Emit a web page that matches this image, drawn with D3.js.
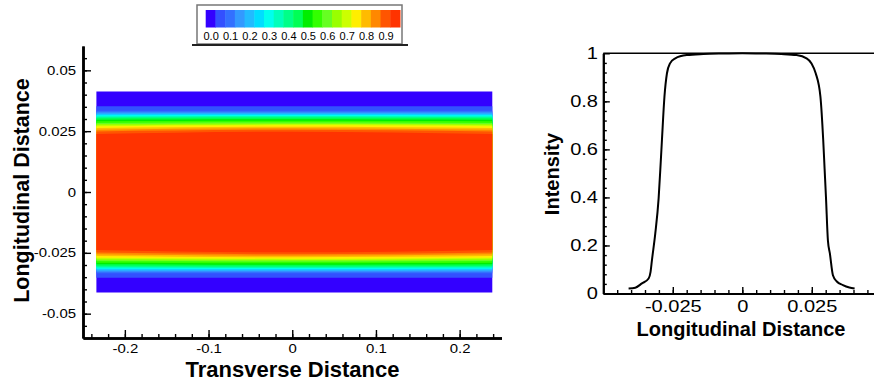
<!DOCTYPE html>
<html>
<head>
<meta charset="utf-8">
<script src="https://cdn.jsdelivr.net/npm/d3@7"></script>
<style>
  body { margin: 0; background: #fff; }
  svg { display: block; font-family: "Liberation Sans", Arial, sans-serif; }
</style>
</head>
<body>
<svg id="chart" width="874" height="381"></svg>
<script>
// contour legend levels and colours (one box per 0.05)
const levels = d3.range(20).map(i => i * 0.05);
const levelColors = ['#3300ff', '#3350ff', '#3370ff', '#3399ff', '#22bbff', '#00ddff', '#00ffee', '#00ffbb',
  '#00ff88', '#00ff55', '#00ee00', '#33ff00', '#66ff22', '#99ff00', '#ccff00', '#ffee00',
  '#ffbb00', '#ff8800', '#ff5500', '#ff3300'];
const legendLabels = ['0.0', '0.1', '0.2', '0.3', '0.4', '0.5', '0.6', '0.7', '0.8', '0.9'];

// map extent (transverse x, longitudinal y)
const mapX = [-0.234, 0, 0.239];
const mapHalfHeight = 0.0413;
// upper contour line of levels 0.05 .. 0.95, at the map centre and at its side edges
const contourCenter = [0.0352, 0.0334, 0.0328, 0.0324, 0.0320, 0.0316, 0.0312, 0.0309, 0.0305, 0.0299,
  0.0293, 0.0287, 0.0282, 0.0278, 0.0274, 0.0268, 0.0262, 0.0256, 0.0248];
const contourEdge = [0.0352, 0.0334, 0.0328, 0.0323, 0.0319, 0.0315, 0.0311, 0.0307, 0.0303, 0.0297,
  0.0291, 0.0284, 0.0279, 0.0274, 0.0270, 0.0263, 0.0256, 0.0249, 0.0238];

// intensity profile along the longitudinal distance
const profileX = [-0.0409, -0.0385, -0.0361, -0.0337, -0.0330, -0.0325, -0.0313, -0.0301, -0.0293, -0.0289,
  -0.0280, -0.0271, -0.0260, -0.0241, -0.0200, -0.0140, -0.0070, 0, 0.0070, 0.0140, 0.0195, 0.0231, 0.0249,
  0.0264, 0.0281, 0.0291, 0.0296, 0.0301, 0.0308, 0.0315, 0.0326, 0.0340, 0.0362, 0.0385, 0.0404];
const profileI = [0.021, 0.024, 0.042, 0.0625, 0.09, 0.139, 0.25, 0.396, 0.556, 0.64,
  0.82, 0.917, 0.958, 0.979, 0.9925, 0.997, 0.999, 1.0, 0.999, 0.997, 0.9925, 0.979, 0.958,
  0.917, 0.82, 0.64, 0.52, 0.40, 0.22, 0.167, 0.076, 0.05, 0.035, 0.025, 0.021];

const leftXTicks = [-0.2, -0.1, 0, 0.1, 0.2];
const leftYTicks = [-0.05, -0.025, 0, 0.025, 0.05];
const rightXTicks = [-0.025, 0, 0.025];
const rightYTicks = [0, 0.2, 0.4, 0.6, 0.8, 1];

const svg = d3.select('#chart');
const fmt = d => d === 0 ? '0' : String(+d.toFixed(3)).replace('\u2212', '-');

// ---------- left: contour map ----------
const x1 = d3.scaleLinear().domain([-0.25, 0.25]).range([83, 501.5]);
const y1 = d3.scaleLinear().domain([-0.06, 0.06]).range([338, 46]);

const bands = svg.append('g');
// outermost level is the full map rectangle, then each higher level painted over it
const bandShapes = [{ c: mapHalfHeight, e: mapHalfHeight }]
  .concat(contourCenter.map((c, i) => ({ c: c, e: contourEdge[i] })));

bandShapes.forEach((b, k) => {
  const pts = [
    { x: mapX[0], top: b.e, bot: -b.e },
    { x: mapX[1], top: b.c, bot: -b.c },
    { x: mapX[2], top: b.e, bot: -b.e }
  ];
  const area = d3.area()
    .x(d => x1(d.x))
    .y0(d => y1(d.bot))
    .y1(d => y1(d.top))
    .curve(k === 0 ? d3.curveLinear : d3.curveNatural);
  bands.append('path')
    .attr('d', area(pts))
    .attr('fill', levelColors[k]);
});

function styleAxis(g, width, sx) {
  g.select('.domain').attr('stroke', '#000').attr('stroke-width', width);
  g.selectAll('.tick line').attr('stroke', '#000').attr('stroke-width', 1.4);
  g.selectAll('.tick text').attr('fill', '#000').attr('transform', 'scale(' + sx + ',1)');
}

// minor ticks
svg.append('g').attr('transform', 'translate(0,' + y1(-0.06) + ')')
  .call(d3.axisBottom(x1).tickValues(d3.range(-12, 13).map(i => i * 0.02)).tickSize(-4).tickSizeOuter(0).tickFormat(''))
  .call(g => styleAxis(g, 2.5, 1));
svg.append('g').attr('transform', 'translate(' + x1(-0.25) + ',0)')
  .call(d3.axisLeft(y1).tickValues(d3.range(-11, 12).map(i => i * 0.005)).tickSize(-4).tickSizeOuter(0).tickFormat(''))
  .call(g => styleAxis(g, 2.5, 1));

svg.append('g').attr('transform', 'translate(0,' + y1(-0.06) + ')')
  .call(d3.axisBottom(x1).tickValues(leftXTicks).tickSize(-8).tickSizeOuter(0).tickPadding(6).tickFormat(fmt))
  .call(g => g.attr('font-size', 13).attr('font-family', null))
  .call(g => styleAxis(g, 2.5, 1.15));
svg.append('g').attr('transform', 'translate(' + x1(-0.25) + ',0)')
  .call(d3.axisLeft(y1).tickValues(leftYTicks).tickSize(-8).tickSizeOuter(0).tickPadding(6).tickFormat(fmt))
  .call(g => g.attr('font-size', 13).attr('font-family', null))
  .call(g => styleAxis(g, 2.5, 1.15));

svg.append('text')
  .attr('transform', 'translate(29,190.5) rotate(-90)')
  .attr('text-anchor', 'middle')
  .attr('font-weight', 'bold')
  .attr('font-size', 21.5)
  .text('Longitudinal Distance');

svg.append('text')
  .attr('x', 292.5).attr('y', 377)
  .attr('text-anchor', 'middle')
  .attr('font-weight', 'bold')
  .attr('font-size', 22)
  .text('Transverse Distance');

// ---------- colour legend ----------
const legend = svg.append('g');
legend.append('rect')
  .attr('x', 197).attr('y', 5).attr('width', 205).attr('height', 39)
  .attr('fill', '#fff').attr('stroke', '#777').attr('stroke-width', 1.5);
legend.append('line')
  .attr('x1', 192).attr('x2', 408).attr('y1', 45).attr('y2', 45)
  .attr('stroke', '#222').attr('stroke-width', 2);

const lx = d3.scaleBand().domain(levels).range([205.7, 400]);
legend.selectAll('.box')
  .data(levels)
  .enter().append('rect')
  .attr('class', 'box')
  .attr('x', d => lx(d))
  .attr('y', 10)
  .attr('width', lx.bandwidth() + 0.5)
  .attr('height', 17.5)
  .attr('fill', (d, i) => levelColors[i]);

legend.selectAll('.lab')
  .data(legendLabels)
  .enter().append('text')
  .attr('class', 'lab')
  .attr('x', (d, i) => lx(levels[i * 2]) + lx.bandwidth() / 2 + 0.6)
  .attr('y', 40)
  .attr('text-anchor', 'middle')
  .attr('font-size', 11)
  .text(d => d);

// ---------- right: intensity profile ----------
const x2 = d3.scaleLinear().domain([-0.05, 0.05]).range([603.3, 881.3]);
const y2 = d3.scaleLinear().domain([0, 1]).range([293.5, 53.3]);

svg.append('line')
  .attr('x1', x2(-0.05)).attr('x2', x2(0.05))
  .attr('y1', y2(1)).attr('y2', y2(1))
  .attr('stroke', '#000').attr('stroke-width', 1.6);

svg.append('g').attr('transform', 'translate(0,' + y2(0) + ')')
  .call(d3.axisBottom(x2).tickValues(d3.range(-9, 10).map(i => i * 0.005)).tickSize(-3.5).tickSizeOuter(0).tickFormat(''))
  .call(g => styleAxis(g, 2, 1));
svg.append('g').attr('transform', 'translate(' + x2(-0.05) + ',0)')
  .call(d3.axisLeft(y2).tickValues(d3.range(1, 25).map(i => i * 0.04)).tickSize(-3.5).tickSizeOuter(0).tickFormat(''))
  .call(g => styleAxis(g, 2, 1));

svg.append('g').attr('transform', 'translate(0,' + y2(0) + ')')
  .call(d3.axisBottom(x2).tickValues(rightXTicks).tickSize(-6.5).tickSizeOuter(0).tickPadding(6.5).tickFormat(fmt))
  .call(g => g.attr('font-size', 17).attr('font-family', null))
  .call(g => styleAxis(g, 2, 1.18));
svg.append('g').attr('transform', 'translate(' + x2(-0.05) + ',0)')
  .call(d3.axisLeft(y2).tickValues(rightYTicks).tickSize(-6.5).tickSizeOuter(0).tickPadding(4.5).tickFormat(fmt))
  .call(g => g.attr('font-size', 17).attr('font-family', null))
  .call(g => styleAxis(g, 2, 1.18));

const line = d3.line()
  .x(d => x2(d[0]))
  .y(d => y2(d[1]))
  .curve(d3.curveMonotoneX);

svg.append('path')
  .datum(profileX.map((v, i) => [v, profileI[i]]))
  .attr('d', line)
  .attr('fill', 'none')
  .attr('stroke', '#000')
  .attr('stroke-width', 2);

svg.append('text')
  .attr('transform', 'translate(559,174) rotate(-90)')
  .attr('text-anchor', 'middle')
  .attr('font-weight', 'bold')
  .attr('font-size', 20)
  .text('Intensity');

svg.append('text')
  .attr('x', 741).attr('y', 336)
  .attr('text-anchor', 'middle')
  .attr('font-weight', 'bold')
  .attr('font-size', 20)
  .text('Longitudinal Distance');
</script>
</body>
</html>
